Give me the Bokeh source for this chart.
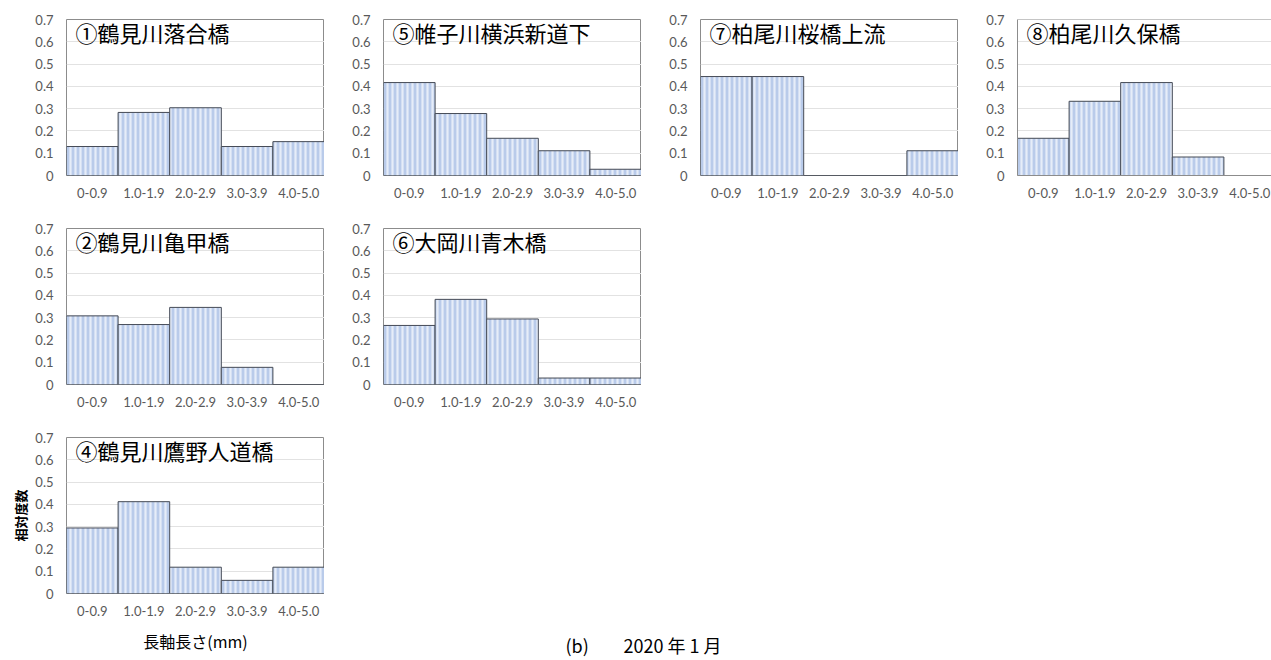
from bokeh.plotting import figure
from bokeh.layouts import row, column
from bokeh.models import Spacer, Label, FixedTicker, Span
from bokeh.embed import file_html
from bokeh.resources import INLINE

# Particle long-axis length classes (mm) and relative frequency per site
size_classes = ["0-0.9", "1.0-1.9", "2.0-2.9", "3.0-3.9", "4.0-5.0"]
y_ticks = [0.0, 0.1, 0.2, 0.3, 0.4, 0.5, 0.6, 0.7]

site_1 = "①鶴見川落合橋"
freq_1 = [0.130, 0.283, 0.304, 0.130, 0.152]
site_5 = "⑤帷子川横浜新道下"
freq_5 = [0.417, 0.278, 0.167, 0.111, 0.028]
site_7 = "⑦柏尾川桜橋上流"
freq_7 = [0.444, 0.444, 0.0, 0.0, 0.111]
site_8 = "⑧柏尾川久保橋"
freq_8 = [0.167, 0.333, 0.417, 0.083, 0.0]
site_2 = "②鶴見川亀甲橋"
freq_2 = [0.308, 0.269, 0.346, 0.077, 0.0]
site_6 = "⑥大岡川青木橋"
freq_6 = [0.265, 0.382, 0.294, 0.029, 0.029]
site_4 = "④鶴見川鷹野人道橋"
freq_4 = [0.294, 0.412, 0.118, 0.059, 0.118]

x_title = "長軸長さ(mm)"
y_title = "相対度数"
caption_tag = "(b)"
caption_date = "2020 年 1 月"

FRAME_COLOR = "#8c8c8c"
GRID_COLOR = "#e2e2e2"
LABEL_COLOR = "#595959"
TICK_FONT = "Lato"
CJK_FONT = "Noto Sans CJK JP"

LEFT = 59
FRAME_W = 258
FRAME_H = 156
TOP = 19


def panel(name, freqs, width=317, bottom=34, open_right=False, ylabel=None):
    frame_w = width - LEFT
    x_end = len(size_classes) * frame_w / FRAME_W
    p = figure(width=width, height=TOP + FRAME_H + bottom,
               x_range=(0, x_end), y_range=(0, 0.7),
               output_backend="svg", toolbar_location=None,
               min_border_left=LEFT, min_border_right=0,
               min_border_top=TOP, min_border_bottom=bottom)
    p.background_fill_color = "white"
    p.border_fill_color = "white"

    centers = [i + 0.5 for i in range(len(size_classes))]
    p.vbar(x=centers, top=freqs, bottom=0, width=1.0,
           fill_color="#b9cbea", line_color="#454a55", line_width=1,
           hatch_pattern="|", hatch_color="#e6edf8", hatch_weight=2.2,
           hatch_scale=5)

    p.xgrid.visible = False
    p.ygrid.ticker = FixedTicker(ticks=y_ticks)
    p.ygrid.grid_line_color = GRID_COLOR

    ya = p.yaxis[0]
    ya.ticker = FixedTicker(ticks=y_ticks)
    ya.major_label_overrides = {0: "0"}
    ya.axis_line_color = None
    ya.major_tick_line_color = None
    ya.minor_tick_line_color = None
    ya.major_tick_out = 0
    ya.major_tick_in = 0
    ya.minor_tick_out = 0
    ya.major_label_standoff = 13
    ya.major_label_text_font = TICK_FONT
    ya.major_label_text_font_size = "13px"
    ya.major_label_text_color = LABEL_COLOR

    xa = p.xaxis[0]
    xa.ticker = FixedTicker(ticks=centers)
    xa.major_label_overrides = {c: s for c, s in zip(centers, size_classes)}
    xa.axis_line_color = None
    xa.major_tick_line_color = None
    xa.minor_tick_line_color = None
    xa.major_tick_out = 0
    xa.major_tick_in = 0
    xa.minor_tick_out = 0
    xa.major_label_standoff = 12
    xa.major_label_text_font = TICK_FONT
    xa.major_label_text_font_size = "13px"
    xa.major_label_text_color = LABEL_COLOR

    if open_right:
        # frame runs off the page edge: draw only left, top and bottom sides
        p.outline_line_color = None
        ya.axis_line_color = FRAME_COLOR
        xa.axis_line_color = FRAME_COLOR
        p.add_layout(Span(location=0.7, dimension="width",
                          line_color=FRAME_COLOR, line_width=1))
    else:
        p.outline_line_color = FRAME_COLOR
        p.outline_line_width = 1

    if ylabel:
        ya.axis_label = ylabel
        ya.axis_label_text_font = CJK_FONT
        ya.axis_label_text_font_size = "13px"
        ya.axis_label_text_font_style = "bold"
        ya.axis_label_text_color = "black"
        ya.axis_label_standoff = 2

    p.add_layout(Label(x=9, y=FRAME_H + 4, x_units="screen", y_units="screen",
                       text=name, text_baseline="top", text_align="left",
                       text_font=CJK_FONT, text_font_size="22px",
                       text_color="black"))
    return p


p1 = panel(site_1, freq_1)
p5 = panel(site_5, freq_5)
p7 = panel(site_7, freq_7)
p8 = panel(site_8, freq_8, width=313, open_right=True)
p2 = panel(site_2, freq_2)
p6 = panel(site_6, freq_6)
p4 = panel(site_4, freq_4, bottom=30, ylabel=y_title)

# bottom strip: x-axis title under the last panel and the figure caption
STRIP_H = 660 - 209 - 209 - (TOP + FRAME_H + 30)
strip = figure(width=1271, height=STRIP_H,
               x_range=(0, 1271), y_range=(0, STRIP_H),
               x_axis_location=None, y_axis_location=None,
               output_backend="svg", toolbar_location=None,
               min_border=0, outline_line_color=None)
strip.grid.visible = False
strip.background_fill_color = "white"
strip.border_fill_color = "white"
strip.add_layout(Label(x=7 + LEFT + FRAME_W / 2, y=STRIP_H - 17,
                       x_units="screen", y_units="screen",
                       text=x_title, text_align="center",
                       text_baseline="middle", text_font=CJK_FONT,
                       text_font_size="16px", text_color="black"))
strip.add_layout(Label(x=565, y=16, x_units="screen", y_units="screen",
                       text=caption_tag, text_baseline="middle",
                       text_font=CJK_FONT, text_font_size="18px",
                       text_color="black"))
strip.add_layout(Label(x=623, y=16, x_units="screen", y_units="screen",
                       text=caption_date, text_baseline="middle",
                       text_font=CJK_FONT, text_font_size="18px",
                       text_color="black"))

layout = column(
    row(Spacer(width=7, height=209), p1, p5, p7, p8),
    row(Spacer(width=7, height=209), p2, p6),
    row(Spacer(width=7, height=TOP + FRAME_H + 30), p4),
    strip,
)

open("out.html", "w").write(file_html(layout, INLINE))
